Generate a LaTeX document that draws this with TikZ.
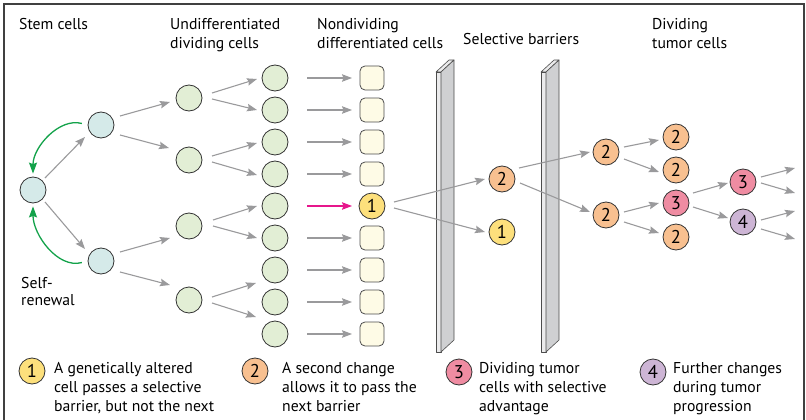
\documentclass[tikz,border=0pt]{standalone}
\usepackage{fontspec}
\setmainfont{PT Sans}
\usetikzlibrary{arrows.meta,calc}
\definecolor{stemc}{HTML}{D5EAE9}
\definecolor{greenc}{HTML}{E2EED5}
\definecolor{creamc}{HTML}{FEFBE6}
\definecolor{yelc}{HTML}{FDE07C}
\definecolor{orac}{HTML}{F8C090}
\definecolor{pinkc}{HTML}{EF8CA2}
\definecolor{purc}{HTML}{CDB5D5}
\definecolor{arrc}{HTML}{9A9A9C}
\definecolor{grnarr}{HTML}{13A24A}
\definecolor{magc}{HTML}{E6168C}
\definecolor{barlight}{HTML}{EBEBEC}
\definecolor{bardark}{HTML}{CFD0D2}
\begin{document}
\begin{tikzpicture}[x=1pt,y=1pt,
  cell/.style={circle, draw=black!80, line width=0.8pt, minimum size=26pt, inner sep=0pt, font=\fontsize{18.5}{18.5}\selectfont},
  stemcell/.style={cell, fill=stemc},
  undcell/.style={cell, fill=greenc},
  sqcell/.style={rectangle, rounded corners=5pt, draw=black!70, fill=creamc, minimum width=24pt, minimum height=24pt, inner sep=0pt, line width=0.8pt},
  onec/.style={cell, fill=yelc},
  twoc/.style={cell, fill=orac},
  threec/.style={cell, fill=pinkc},
  fourc/.style={cell, fill=purc},
  arr/.style={draw=arrc, line width=1.1pt, -{Stealth[length=10pt,width=7.5pt,inset=1.5pt]}},
  garr/.style={draw=grnarr, line width=1.3pt, -{Stealth[length=11pt,width=8pt,inset=1.5pt]}},
  marr/.style={draw=magc, line width=1.1pt, -{Stealth[length=10pt,width=7.5pt,inset=1.5pt]}},
  lab/.style={font=\fontsize{15.7}{19}\selectfont, align=left, anchor=north west, inner sep=0pt},
  barlt/.style={fill=barlight, draw=black!70, line width=0.6pt, line join=round},
  bardk/.style={fill=bardark, draw=black!70, line width=0.6pt, line join=round},
  frame/.style={draw=black!75, line width=1.2pt}
]
\useasboundingbox (0,0) rectangle (806,-420);
\draw[frame] (4,-420) -- (4,-4) -- (804,-4) -- (804,-420);

% titles
\node[lab] (tstem) at (19,-18) {Stem cells};
\node[lab] (tund) at (170,-18) {Undifferentiated\\dividing cells};
\node[lab] (tnon) at (317,-18) {Nondividing\\differentiated cells};
\node[lab] (tsel) at (463,-33) {Selective barriers};
\node[lab] (tdiv) at (652,-18) {Dividing\\tumor cells};
\node[lab] (tself) at (21,-277) {Self-\\[-2pt]renewal};

% barriers
\foreach \bx in {0,105}{
  \begin{scope}[xshift=\bx]
  \path[barlt] (436,-72) rectangle (441,-352);
  \path[barlt] (436,-72) -- (449,-60) -- (454,-60) -- (441,-72) -- cycle;
  \path[bardk] (441,-72) -- (454,-60) -- (454,-340) -- (441,-352) -- cycle;
  \end{scope}
}

% stem cells
\node[stemcell] (s0) at (33,-190) {};
\node[stemcell] (su) at (101,-125) {};
\node[stemcell] (sl) at (101,-261) {};

% layer 1
\node[undcell] (u1) at (189,-98) {};
\node[undcell] (u2) at (189,-160) {};
\node[undcell] (u3) at (189,-226) {};
\node[undcell] (u4) at (189,-300) {};

% layer 2 and 3
\foreach \k in {0,...,8}{
  \node[undcell] (v\k) at (275,{-78-32*\k}) {};
}
\foreach \k in {0,1,2,3,5,6,7,8}{
  \node[sqcell] (w\k) at (372,{-78-32*\k}) {};
}
\node[onec] (w4) at (372,-206) {1};

% right part
\node[twoc] (b2) at (502,-179) {2};
\node[onec] (b1) at (502,-232) {1};
\node[twoc] (d1) at (606,-152) {2};
\node[twoc] (d2) at (606,-215) {2};
\node[twoc] (e1) at (676,-137) {2};
\node[twoc] (e2) at (676,-170) {2};
\node[threec] (e3) at (676,-203) {3};
\node[twoc] (e4) at (676,-237) {2};
\node[threec] (f1) at (743,-182) {3};
\node[fourc] (f2) at (743,-222) {4};
\coordinate (t1) at ($(f1)+(52,14)$);
\coordinate (t2) at ($(f1)+(52,-11)$);
\coordinate (t3) at ($(f2)+(52,11)$);
\coordinate (t4) at ($(f2)+(52,-17)$);

% stem arrows
\draw[arr] ($(s0)+(12,12)$) -- ($(su)+(-16,-12)$);
\draw[arr] ($(s0)+(12,-12)$) -- ($(sl)+(-16,12)$);
\draw[garr, shorten <=6pt, shorten >=3pt] (su.west) to[out=165,in=90] (s0.north);
\draw[garr, shorten <=6pt, shorten >=3pt] (sl.west) to[out=195,in=-90] (s0.south);
\draw[arr] ($(su)+(19,9)$) -- ($(u1)+(-19,-4)$);
\draw[arr] ($(su)+(19,-10)$) -- ($(u2)+(-20,12)$);
\draw[arr] ($(sl)+(19,9)$) -- ($(u3)+(-19,-12)$);
\draw[arr] ($(sl)+(19,-11)$) -- ($(u4)+(-19,15)$);

% layer1 -> layer2
\draw[arr] ($(u1)+(23,5)$) -- ($(v0)+(-18,-1)$);
\draw[arr] ($(u1)+(23,-1)$) -- ($(v1)+(-18,0)$);
\draw[arr] ($(u2)+(23,4)$) -- ($(v2)+(-18,-1)$);
\draw[arr] ($(u2)+(23,-2)$) -- ($(v3)+(-18,-1)$);
\draw[arr] ($(u3)+(24,6)$) -- ($(v4)+(-18,0)$);
\draw[arr] ($(u3)+(24,0)$) -- ($(v5)+(-18,0)$);
\draw[arr] ($(u4)+(23,3)$) -- ($(v6)+(-19,-13)$);
\draw[arr] ($(u4)+(23,-3)$) -- ($(v7)+(-19,-15)$);

% layer2 -> layer3
\foreach \k in {0,1,2,3,5,6,7,8}{
  \draw[arr] ($(v\k)+(32,0)$) -- ($(w\k)+(-20,0)$);
}
\draw[marr] ($(v4)+(32,0)$) -- ($(w4)+(-20,0)$);

% tumour progression
\draw[arr] ($(w4)+(22,4)$) -- ($(b2)+(-17,0)$);
\draw[arr] ($(w4)+(22,-2)$) -- ($(b1)+(-17,0)$);
\draw[arr] ($(b2)+(17,11)$) -- ($(d1)+(-16,0)$);
\draw[arr] ($(b2)+(18,-4)$) -- ($(d2)+(-16,3)$);
\draw[arr] ($(d1)+(18,5)$) -- ($(e1)+(-17,-3)$);
\draw[arr] ($(d1)+(18,-7)$) -- ($(e2)+(-17,-2)$);
\draw[arr] ($(d2)+(18,3)$) -- ($(e3)+(-17,0)$);
\draw[arr] ($(d2)+(18,-7)$) -- ($(e4)+(-17,4)$);
\draw[arr] ($(e3)+(17,10)$) -- ($(f1)+(-15,-1)$);
\draw[arr] ($(e3)+(17,-4)$) -- ($(f2)+(-15,4)$);
\draw[arr] ($(f1)+(18,5)$) -- (t1);
\draw[arr] ($(f1)+(18,-1)$) -- (t2);
\draw[arr] ($(f2)+(18,2)$) -- (t3);
\draw[arr] ($(f2)+(18,-7)$) -- (t4);

% legend
\node[onec] (k1) at (32,-371) {1};
\node[lab] (l1) at (54,-362) {A genetically altered\\cell passes a selective\\barrier, but not the next};
\node[twoc] (k2) at (255,-371) {2};
\node[lab] (l2) at (282,-362) {A second change\\allows it to pass the\\next barrier};
\node[threec] (k3) at (459,-372) {3};
\node[lab] (l3) at (479,-362) {Dividing tumor\\cells with selective\\advantage};
\node[fourc] (k4) at (653,-372) {4};
\node[lab] (l4) at (673,-362) {Further changes\\during tumor\\progression};
\end{tikzpicture}
\end{document}
